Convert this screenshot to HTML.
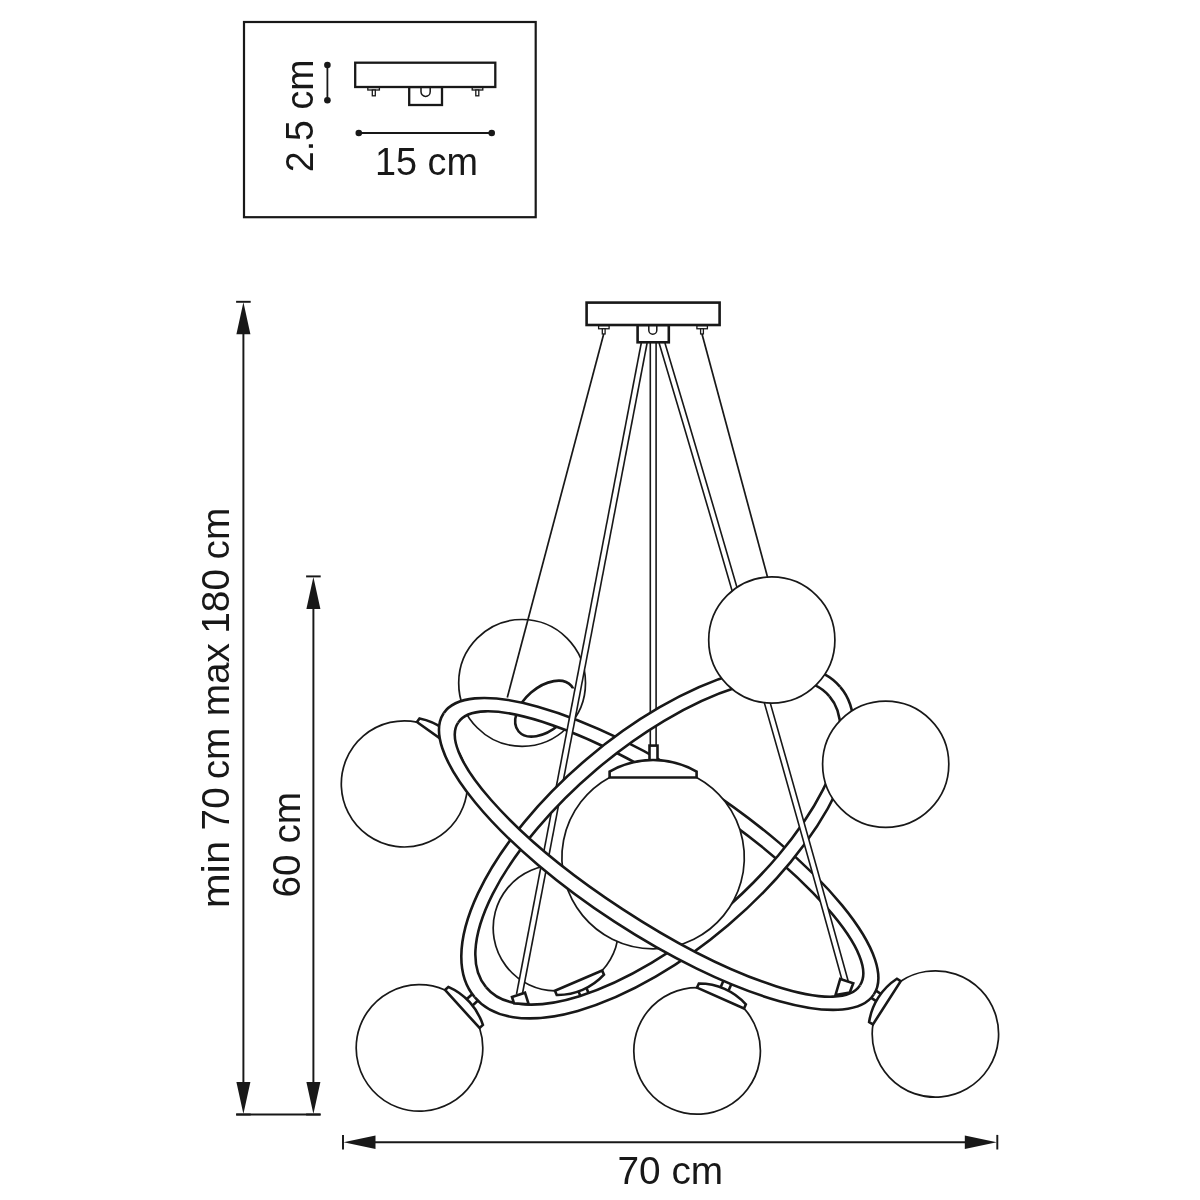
<!DOCTYPE html>
<html><head><meta charset="utf-8"><title>diagram</title>
<style>html,body{margin:0;padding:0;background:#fff}svg{display:block;filter:grayscale(1)}</style></head>
<body><svg width="1200" height="1200" viewBox="0 0 1200 1200">
<rect width="1200" height="1200" fill="#fff"/>
<defs>
<clipPath id="cAb"><polygon points="-1015.2,-240.3 2333.0,1948.2 3427.3,274.1 79.0,-1914.4"/></clipPath>
<clipPath id="cAf"><polygon points="-1015.2,-240.3 2333.0,1948.2 1238.8,3622.3 -2109.5,1433.8"/></clipPath>
<clipPath id="cBf"><polygon points="-867.6,2135.3 2183.1,-451.9 889.5,-1977.2 -2161.2,609.9"/></clipPath>
<clipPath id="cBb"><polygon points="-867.6,2135.3 2183.1,-451.9 3476.7,1073.5 426.0,3660.6"/></clipPath>
<clipPath id="cSl"><rect x="300" y="650" width="148" height="200"/></clipPath>
<clipPath id="cHtl"><polygon points="400,600 700,600 700,688.6 561,688.6 561,800 400,800"/></clipPath>
</defs>
<circle cx="522.1" cy="682.9" r="63.4" fill="none" stroke="#181817" stroke-width="1.7"/>
<g clip-path="url(#cHtl)"><ellipse cx="545.03" cy="708.66" rx="34.88" ry="21.32" transform="rotate(-40.91 545.03 708.66)" fill="none" stroke="#181817" stroke-width="2.6"/></g>
<line x1="585.87" y1="986.79" x2="589.62" y2="995.52" stroke="#181817" stroke-width="2.6"/><line x1="577.97" y1="990.17" x2="581.71" y2="998.91" stroke="#181817" stroke-width="2.6"/>
<path d="M554.95,990.79A62.8,62.8 0 1 1 602.19,970.54" fill="#fff" stroke="#181817" stroke-width="1.7"/>
<path d="M602.19,970.54L603.97,974.68A62.79,62.79 0 0 1 556.72,994.93L554.95,990.79Z" fill="#fff" stroke="#181817" stroke-width="2.6" stroke-linejoin="miter"/>
<path d="M458.79,751.91A63.1,63.1 0 1 1 416.94,722.06" fill="#fff" stroke="#181817" stroke-width="1.7"/>
<g clip-path="url(#cSl)"><path d="M416.94,722.06L419.56,718.40A62.79,62.79 0 0 1 461.40,748.24L458.79,751.91Z" fill="#fff" stroke="#181817" stroke-width="2.6" stroke-linejoin="miter"/></g>
<line x1="465.68" y1="1000.07" x2="472.71" y2="993.67" stroke="#181817" stroke-width="2.6"/><line x1="471.47" y1="1006.43" x2="478.49" y2="1000.03" stroke="#181817" stroke-width="2.6"/>
<line x1="720.05" y1="988.50" x2="723.90" y2="979.81" stroke="#181817" stroke-width="2.6"/><line x1="727.91" y1="991.98" x2="731.76" y2="983.30" stroke="#181817" stroke-width="2.6"/>
<line x1="877.34" y1="1001.83" x2="869.34" y2="996.70" stroke="#181817" stroke-width="2.6"/><line x1="881.98" y1="994.60" x2="873.99" y2="989.46" stroke="#181817" stroke-width="2.6"/>
<line x1="603.7" y1="334" x2="507.3" y2="697.5" stroke="#181817" stroke-width="1.7"/>
<line x1="702" y1="334" x2="767.5" y2="577" stroke="#181817" stroke-width="1.7"/>
<path d="M873.87,994.41A256.99,80.93 33.14 1 0 443.49,713.43A256.99,80.93 33.14 1 0 873.87,994.41ZM859.96,985.36A240.05,65.82 33.18 1 0 458.14,722.62A240.05,65.82 33.18 1 0 859.96,985.36Z" fill="#fff" fill-rule="evenodd" stroke="#181817" stroke-width="2.6" clip-path="url(#cAb)"/>
<path d="M840.16,686.92A239.70,108.43 -40.34 1 0 474.76,997.24A239.70,108.43 -40.34 1 0 840.16,686.92ZM829.47,696.42A224.99,94.35 -40.28 1 0 486.19,987.34A224.99,94.35 -40.28 1 0 829.47,696.42Z" fill="#fff" fill-rule="evenodd" stroke="#181817" stroke-width="2.6" clip-path="url(#cBb)"/>
<path d="M641.27,343Q578.91,668.5 516.54,994L522.38,994Q584.75,668.5 647.11,343Z" fill="#fff" stroke="none"/><path d="M641.27,343Q578.91,668.5 516.54,994" fill="none" stroke="#181817" stroke-width="1.6"/><path d="M647.11,343Q584.75,668.5 522.38,994" fill="none" stroke="#181817" stroke-width="1.6"/>
<path d="M659.10,343Q754.63,662.0 842.33,981L848.17,981Q760.47,662.0 664.94,343Z" fill="#fff" stroke="none"/><path d="M659.10,343Q754.63,662.0 842.33,981" fill="none" stroke="#181817" stroke-width="1.6"/><path d="M664.94,343Q760.47,662.0 848.17,981" fill="none" stroke="#181817" stroke-width="1.6"/>
<rect x="650.3" y="343" width="5.8" height="403" fill="#fff" stroke="none"/>
<line x1="650.3" y1="343" x2="650.3" y2="746" stroke="#181817" stroke-width="1.6"/><line x1="656.1" y1="343" x2="656.1" y2="746" stroke="#181817" stroke-width="1.6"/>
<path d="M696.6,777.5A91.2,91.2 0 1 1 609.6,777.5" fill="#fff" stroke="#181817" stroke-width="1.7"/>
<rect x="649.5" y="745.6" width="8" height="15" fill="#fff" stroke="#181817" stroke-width="2.6"/>
<path d="M609.6,777.5L609.6,771.6A87.5,87.5 0 0 1 696.6,771.6L696.6,777.5Z" fill="#fff" stroke="#181817" stroke-width="2.6" stroke-linejoin="miter"/>
<path d="M840.16,686.92A239.70,108.43 -40.34 1 0 474.76,997.24A239.70,108.43 -40.34 1 0 840.16,686.92ZM829.47,696.42A224.99,94.35 -40.28 1 0 486.19,987.34A224.99,94.35 -40.28 1 0 829.47,696.42Z" fill="#fff" fill-rule="evenodd" stroke="#181817" stroke-width="2.6" clip-path="url(#cBf)"/>
<path d="M873.87,994.41A256.99,80.93 33.14 1 0 443.49,713.43A256.99,80.93 33.14 1 0 873.87,994.41ZM859.96,985.36A240.05,65.82 33.18 1 0 458.14,722.62A240.05,65.82 33.18 1 0 859.96,985.36Z" fill="#fff" fill-rule="evenodd" stroke="#181817" stroke-width="2.6" clip-path="url(#cAf)"/>
<polygon points="512,997 525,992.7 528.7,1004.3 514,1003.3" fill="#fff" stroke="#181817" stroke-width="2.6" stroke-linejoin="miter"/>
<polygon points="840.25,979 853.25,983.25 849.75,992.5 835.5,995" fill="#fff" stroke="#181817" stroke-width="2.6" stroke-linejoin="miter"/>
<circle cx="771.8" cy="640.0" r="63.1" fill="#fff" stroke="#181817" stroke-width="1.7"/>
<circle cx="885.7" cy="764.3" r="63.1" fill="#fff" stroke="#181817" stroke-width="1.7"/>
<path d="M479.58,1027.98A63.3,63.3 0 1 1 444.99,989.96" fill="#fff" stroke="#181817" stroke-width="1.7"/>
<path d="M444.99,989.96L448.32,986.93A62.79,62.79 0 0 1 482.91,1024.95L479.58,1027.98Z" fill="#fff" stroke="#181817" stroke-width="2.6" stroke-linejoin="miter"/>
<path d="M744.03,1008.42A63.3,63.3 0 1 1 697.04,987.60" fill="#fff" stroke="#181817" stroke-width="1.7"/>
<path d="M697.04,987.60L698.86,983.49A62.79,62.79 0 0 1 745.86,1004.31L744.03,1008.42Z" fill="#fff" stroke="#181817" stroke-width="2.6" stroke-linejoin="miter"/>
<path d="M900.70,981.18A63.2,63.2 0 1 1 872.93,1024.43" fill="#fff" stroke="#181817" stroke-width="1.7"/>
<path d="M872.93,1024.43L869.14,1022.00A62.79,62.79 0 0 1 896.91,978.75L900.70,981.18Z" fill="#fff" stroke="#181817" stroke-width="2.6" stroke-linejoin="miter"/>
<rect x="598.6" y="325.65" width="10.5" height="3.1" fill="#fff" stroke="#181817" stroke-width="1.3"/><rect x="602.3" y="328.75" width="2.800000000000068" height="5.2" fill="#fff" stroke="#181817" stroke-width="1.3"/><rect x="696.9" y="325.65" width="10.5" height="3.1" fill="#fff" stroke="#181817" stroke-width="1.3"/><rect x="700.6" y="328.75" width="2.7999999999999545" height="5.2" fill="#fff" stroke="#181817" stroke-width="1.3"/><rect x="637.6" y="325.0" width="31.199999999999932" height="17.30000000000001" fill="#fff" stroke="#181817" stroke-width="2.6"/><path d="M648.8,325.0L648.8,330.2A4.0,4.0 0 0 0 656.8,330.2L656.8,325.0" fill="none" stroke="#181817" stroke-width="1.5"/><rect x="586.6" y="302.6" width="133.0" height="22.399999999999977" fill="#fff" stroke="#181817" stroke-width="2.6"/>
<rect x="244" y="22" width="291.7" height="195.2" fill="none" stroke="#181817" stroke-width="2.2"/>
<rect x="367.8" y="87.50" width="11.599999999999966" height="2.5" fill="#fff" stroke="#181817" stroke-width="1.3"/><rect x="372.3" y="90.00" width="3.0" height="5.8" fill="#fff" stroke="#181817" stroke-width="1.3"/><rect x="472.2" y="87.50" width="10.600000000000023" height="2.5" fill="#fff" stroke="#181817" stroke-width="1.3"/><rect x="475.8" y="90.00" width="3.0" height="5.8" fill="#fff" stroke="#181817" stroke-width="1.3"/><rect x="409.2" y="87.0" width="32.80000000000001" height="18.0" fill="#fff" stroke="#181817" stroke-width="2.3"/><path d="M421.0,87.0L421.0,91.80000000000001A4.599999999999994,4.599999999999994 0 0 0 430.2,91.80000000000001L430.2,87.0" fill="none" stroke="#181817" stroke-width="1.5"/><rect x="355.2" y="62.7" width="140.10000000000002" height="24.299999999999997" fill="#fff" stroke="#181817" stroke-width="2.3"/>
<line x1="327.4" y1="65" x2="327.4" y2="100.3" stroke="#181817" stroke-width="1.8"/><circle cx="327.4" cy="65" r="3.3" fill="#181817"/><circle cx="327.4" cy="100.3" r="3.3" fill="#181817"/>
<line x1="358.8" y1="133" x2="491.7" y2="133" stroke="#181817" stroke-width="1.8"/><circle cx="358.8" cy="133" r="3.3" fill="#181817"/><circle cx="491.7" cy="133" r="3.3" fill="#181817"/>
<line x1="243.4" y1="331.8" x2="243.4" y2="1084.5" stroke="#181817" stroke-width="1.95"/><line x1="236.1" y1="301.8" x2="250.70000000000002" y2="301.8" stroke="#181817" stroke-width="1.95"/><line x1="236.1" y1="1114.5" x2="250.70000000000002" y2="1114.5" stroke="#181817" stroke-width="1.95"/><polygon points="243.4,302.3 236.4,334.3 250.4,334.3" fill="#181817"/><polygon points="243.4,1114.0 236.4,1082.0 250.4,1082.0" fill="#181817"/>
<line x1="313.4" y1="606.4" x2="313.4" y2="1084.5" stroke="#181817" stroke-width="1.95"/><line x1="306.09999999999997" y1="576.4" x2="320.7" y2="576.4" stroke="#181817" stroke-width="1.95"/><line x1="306.09999999999997" y1="1114.5" x2="320.7" y2="1114.5" stroke="#181817" stroke-width="1.95"/><polygon points="313.4,576.9 306.4,608.9 320.4,608.9" fill="#181817"/><polygon points="313.4,1114.0 306.4,1082.0 320.4,1082.0" fill="#181817"/>
<line x1="236.3" y1="1114.5" x2="320.4" y2="1114.5" stroke="#181817" stroke-width="1.95"/>
<line x1="373.0" y1="1142.2" x2="967.3" y2="1142.2" stroke="#181817" stroke-width="1.95"/>
<line x1="343.0" y1="1134.9" x2="343.0" y2="1149.5" stroke="#181817" stroke-width="1.95"/><line x1="997.3" y1="1134.9" x2="997.3" y2="1149.5" stroke="#181817" stroke-width="1.95"/>
<polygon points="343.5,1142.2 375.5,1135.4 375.5,1149.0" fill="#181817"/><polygon points="996.8,1142.2 964.8,1135.4 964.8,1149.0" fill="#181817"/>
<text x="375" y="174.7" font-family="Liberation Sans, sans-serif" font-size="38.8" fill="#181817" textLength="103" lengthAdjust="spacingAndGlyphs">15 cm</text>
<text x="313.3" y="172.2" font-family="Liberation Sans, sans-serif" font-size="38.8" fill="#181817" textLength="112.6" lengthAdjust="spacingAndGlyphs" transform="rotate(-90 313.3 172.2)">2.5 cm</text>
<text x="617.5" y="1183.7" font-family="Liberation Sans, sans-serif" font-size="38.8" fill="#181817">70 cm</text>
<text x="300" y="897.5" font-family="Liberation Sans, sans-serif" font-size="38.8" fill="#181817" transform="rotate(-90 300 897.5)">60 cm</text>
<text x="229" y="908.3" font-family="Liberation Sans, sans-serif" font-size="38.8" fill="#181817" transform="rotate(-90 229 908.3)"><tspan textLength="67.5" lengthAdjust="spacingAndGlyphs">min</tspan> <tspan dx="-0.4">70</tspan> <tspan dx="-2.8">cm</tspan> <tspan dx="0.5">max</tspan> <tspan dx="-1.5">180</tspan> <tspan dx="-1.3">cm</tspan></text>
</svg></body></html>
